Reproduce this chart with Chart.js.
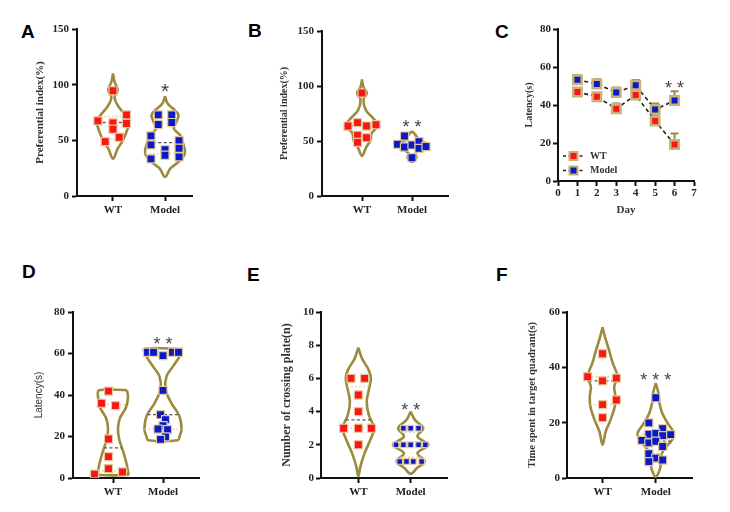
<!DOCTYPE html>
<html><head><meta charset="utf-8">
<script src="https://cdn.jsdelivr.net/npm/chart.js@4/dist/chart.umd.min.js"></script>
<style>
body{margin:0;background:#fff;width:730px;height:512px;position:relative;overflow:hidden}
canvas{position:absolute}
.lab{position:absolute;font:bold 19px "Liberation Sans",Arial,sans-serif;color:#000;line-height:19px}
</style></head><body>
<div class="lab" style="left:21px;top:22px">A</div>
<div class="lab" style="left:248px;top:21px">B</div>
<div class="lab" style="left:495px;top:22px">C</div>
<div class="lab" style="left:22px;top:262px">D</div>
<div class="lab" style="left:247px;top:265px">E</div>
<div class="lab" style="left:496px;top:265px">F</div>
<canvas id="cA" width="200" height="222" style="left:0;top:10px"></canvas>
<canvas id="cB" width="215" height="222" style="left:240px;top:10px"></canvas>
<canvas id="cC" width="225" height="215" style="left:480px;top:10px"></canvas>
<canvas id="cD" width="210" height="262" style="left:0;top:250px"></canvas>
<canvas id="cE" width="215" height="262" style="left:240px;top:250px"></canvas>
<canvas id="cF" width="225" height="262" style="left:480px;top:250px"></canvas>
<script>
// ---------- data ----------
const groups = ['WT', 'Model'];

// Panel A – Preferential index(%)
const aWTVal = [94.5, 67.5, 65.7, 72.9, 65.1, 60, 52.8, 48.9];
const aWTJit = [0, -0.29, 0, 0.26, 0.26, 0, 0.12, -0.15];
const aModelVal = [54, 45.9, 33.3, 72.9, 64.2, 41.7, 36.6, 72.9, 66, 49.8, 42.9, 35.1];
const aModelJit = [-0.27, -0.27, -0.27, -0.13, -0.13, 0, 0, 0.13, 0.13, 0.27, 0.27, 0.27];
const aWTViolin = [[110,0],[102.6,0.03],[95,0.09],[88.5,0.03],[80,0.11],[72.6,0.24],[66.6,0.31],[59,0.27],[50,0.19],[42.6,0.09],[33.6,0]];
const aModelViolin = [[89.7,0],[83,0.05],[77,0.19],[72.6,0.26],[66.6,0.22],[60.6,0.17],[54.6,0.29],[47,0.35],[38,0.38],[30.6,0.26],[24.6,0.1],[17,0]];
const aMedians = [66, 48];
const aQuartiles = [[71.5, 51], [65, 38]];

// Panel B – Preferential index(%)
const bWTVal = [93.6, 66.7, 63.6, 63.6, 64.8, 55.2, 53, 48.8];
const bWTJit = [0, -0.09, -0.28, 0.09, 0.28, -0.09, 0.09, -0.09];
const bModelVal = [54.5, 47, 44.5, 46.4, 49.4, 43.3, 45, 34.8];
const bModelJit = [-0.15, -0.29, -0.15, 0, 0.14, 0.14, 0.28, 0];
const bWTViolin = [[105.8,0],[99,0.03],[93.6,0.1],[87.6,0.03],[77.9,0.08],[70.3,0.23],[64,0.32],[57,0.19],[50.6,0.17],[44,0.08],[36.4,0]];
const bModelViolin = [[59,0],[56,0.06],[53.5,0.1],[51,0.12],[48,0.28],[45.5,0.31],[42,0.18],[39,0.07],[35,0.09],[31,0]];
const bMedians = [63.6, 46];
const bQuartiles = [[66, 53], [49, 44]];

// Panel C – Latency(s) by day
const days = [1, 2, 3, 4, 5, 6];
const cWT = [46.9, 44.3, 38, 45.3, 31.6, 19.2];
const cWTErr = [1.6, 1.7, 2.8, 1.6, 2.5, 5.8];
const cModel = [53.3, 51.1, 46.6, 50.4, 37.6, 42.4];
const cModelErr = [2.4, 2.5, 2.6, 2.7, 3.2, 4.9];

// Panel D – Latency(s)
const dWTVal = [41.9, 36, 34.9, 18.8, 10.3, 4.5, 1.9, 2.9];
const dWTJit = [-0.09, -0.23, 0.05, -0.09, -0.09, -0.09, -0.37, 0.19];
const dModelVal = [60.6, 60.6, 59, 60.6, 60.6, 42.2, 30.5, 28.1, 25.2, 23.6, 23.3, 19.8, 18.6];
const dModelJit = [-0.31, -0.19, 0, 0.19, 0.31, 0, -0.05, 0.05, 0, -0.1, 0.09, 0.05, -0.05];
const dWTViolin = [[42.3,0.28],[39,0.3],[34,0.26],[29,0.14],[24,0.1],[19,0.12],[13,0.2],[7,0.27],[3,0.3],[1.6,0.3]];
const dModelViolin = [[62.2,0.37],[58.6,0.33],[53.8,0.2],[49,0.07],[42.6,0.05],[36,0.17],[29.7,0.33],[23.3,0.37],[20,0.33],[18.2,0.3]];
const dMedians = [14.5, 30.5];
const dQuartiles = [[3.5, 35.5], [23.5, 60.6]];

// Panel E – Number of crossing plate(n)
const eWTVal = [6, 6, 5, 4, 3, 3, 3, 2];
const eWTJit = [-0.14, 0.12, 0, 0, -0.28, 0, 0.25, 0];
const eModelVal = [3, 3, 3, 2, 2, 2, 2, 2, 1, 1, 1, 1];
const eModelJit = [-0.14, 0, 0.15, -0.28, -0.14, 0, 0.15, 0.28, -0.21, -0.08, 0.05, 0.21];
const eWTViolin = [[7.85,0],[7.2,0.07],[6.5,0.2],[6,0.24],[5.3,0.2],[4.6,0.16],[3.8,0.2],[3,0.3],[2.3,0.23],[1.5,0.12],[0.7,0.04],[0.1,0]];
const eModelViolin = [[4.0,0],[3.5,0.08],[3.0,0.24],[2.5,0.13],[2.0,0.34],[1.5,0.13],[1.0,0.27],[0.6,0.12],[0.25,0]];
const eMedians = [3.5, 2];
const eQuartiles = [[3, 5.5], [1.25, 2.75]];

// Panel F – Time spent in target quadrant(s)
const fWTVal = [44.9, 36.6, 35.1, 36.1, 28.2, 26.5, 21.8];
const fWTJit = [0, -0.28, 0, 0.26, 0.26, 0, 0];
const fModelVal = [29, 19.9, 17.8, 15.8, 16.1, 15.3, 15.7, 13.6, 12.7, 13.3, 11.4, 8.8, 7.2, 5.9, 6.5];
const fModelJit = [0, -0.13, 0.13, -0.13, 0, 0.13, 0.28, -0.26, -0.13, 0, 0.13, -0.13, 0, -0.13, 0.13];
const fWTViolin = [[54.5,0],[50,0.06],[46.4,0.12],[41.6,0.19],[36.7,0.28],[33.1,0.22],[29.5,0.24],[25.9,0.23],[21,0.15],[16.9,0.06],[12,0]];
const fModelViolin = [[34.3,0],[30.7,0.05],[27,0.07],[23.5,0.12],[19.9,0.22],[16.3,0.34],[13.9,0.31],[10.2,0.15],[7.2,0.09],[4.2,0.09],[1.8,0.05],[0.4,0]];
const fMedians = [35.1, 13.3];
const fQuartiles = [[26.5, 36.6], [8.8, 15.9]];

// significance marks
const sigA = {x: 2, y: 98.8, text: '*'};
const sigB = {x: 2, y: 66.4, text: '* *'};
const sigC = {x: 6, y: 51, text: '* *'};
const sigD = {x: 2, y: 66.8, text: '* *'};
const sigE = {x: 2, y: 4.36, text: '* *'};
const sigF = {x: 2, y: 36.9, text: '* * *'};

// ---------- styling ----------
const SERIF = '"Liberation Serif","Times New Roman",serif';
const SANS = '"Liberation Sans",Arial,sans-serif';
const RED = '#ff1414', BLUE = '#0a1ac4', PTBORDER = '#e4c99c';
const VIOLIN = '#9c8a3e';
const tickFont = {family: SERIF, weight: 'bold', size: 11};

function profileHW(profile, y) {
  for (let i = 0; i < profile.length - 1; i++) {
    const [y0, w0] = profile[i], [y1, w1] = profile[i + 1];
    if (y <= y0 && y >= y1) { const t = (y0 - y) / ((y0 - y1) || 1); return w0 + (w1 - w0) * t; }
  }
  return 0;
}
function outline(c, profile) {
  const right = profile.map(p => ({x: c + p[1], y: p[0]}));
  const left = profile.slice().reverse().filter(p => p[1] > 0).map(p => ({x: c - p[1], y: p[0]}));
  return right.concat(left, [right[0]]);
}
function sigPlugin(sig, size) {
  return {id: 'sig', afterDatasetsDraw(chart) {
    const ctx = chart.ctx, xs = chart.scales.x, ys = chart.scales.y;
    ctx.save();
    ctx.font = size + 'px ' + SANS;
    ctx.fillStyle = '#444'; ctx.textAlign = 'center'; ctx.textBaseline = 'alphabetic';
    ctx.fillText(sig.text, xs.getPixelForValue(sig.x), ys.getPixelForValue(sig.y) + size * 0.57);
    ctx.restore();
  }};
}
function yAxis(max, step, title, tFont, tOffset, width, tickPad) {
  const lh = tFont.size * 1.2;
  return {
    type: 'linear', min: 0, max: max,
    ticks: {stepSize: step, color: '#222', font: tickFont, padding: tickPad},
    border: {color: '#111', width: 2},
    grid: {drawOnChartArea: false, drawTicks: true, tickLength: 5, tickColor: '#111', tickWidth: 2},
    title: {display: true, text: title, color: '#333', font: tFont, padding: {top: tOffset - lh / 2, bottom: 0}},
    afterFit: s => { s.width = width; }
  };
}
function xCatAxis(min, max, height, pad) {
  return {
    type: 'linear', min: min, max: max,
    afterBuildTicks: s => { s.ticks = [{value: 1}, {value: 2}]; },
    ticks: {color: '#222', font: tickFont, padding: pad, autoSkip: false, maxRotation: 0, callback: v => groups[v - 1]},
    border: {color: '#111', width: 2},
    grid: {drawOnChartArea: false, drawTicks: true, tickLength: 5, tickColor: '#111', tickWidth: 2},
    afterFit: s => { s.height = height; }
  };
}

function violinChart(id, o) {
  const datasets = [];
  o.groups.forEach((g, gi) => {
    const c = gi + 1;
    const r = g.radius || 5.7;
    datasets.push({label: groups[gi], data: g.val.map((v, i) => ({x: c + g.jit[i], y: v})),
      pointStyle: 'rect', pointRadius: r, pointHoverRadius: r,
      pointBackgroundColor: g.color, pointBorderColor: PTBORDER, pointBorderWidth: 1.2, order: 0});
    const hm = profileHW(g.violin, g.median);
    datasets.push({data: [{x: c - hm, y: g.median}, {x: c + hm, y: g.median}], showLine: true,
      borderColor: '#555', borderWidth: 1.3, borderDash: [3, 2.5], pointRadius: 0, order: 1});
    g.quart.forEach(q => {
      const hq = profileHW(g.violin, q);
      datasets.push({data: [{x: c - hq, y: q}, {x: c + hq, y: q}], showLine: true,
        borderColor: '#dccb9c', borderWidth: 1.3, borderDash: [1.5, 2.5], pointRadius: 0, order: 1});
    });
    datasets.push({data: outline(c, g.violin), showLine: true, borderColor: VIOLIN, borderWidth: 2.6,
      tension: 0.35, pointRadius: 0, fill: false, order: 2});
  });
  return new Chart(document.getElementById(id), {
    type: 'scatter',
    data: {datasets},
    options: {
      responsive: false, animation: false, events: [],
      layout: {padding: {top: o.padTop, right: o.padRight, left: 0, bottom: 0}},
      plugins: {legend: {display: false}, tooltip: {enabled: false}},
      scales: {x: xCatAxis(o.xMin, o.xMax, o.xHeight, o.xPad), y: o.y}
    },
    plugins: [sigPlugin(o.sig, o.sigSize)]
  });
}

violinChart('cA', {
  padTop: 19, padRight: 8, xMin: 0.308, xMax: 2.519, xHeight: 36, xPad: 2.5,
  y: yAxis(150, 50, 'Preferential index(%)', {family: SERIF, weight: 'bold', size: 11}, 40, 77, 3),
  groups: [
    {val: aWTVal, jit: aWTJit, violin: aWTViolin, median: aMedians[0], quart: aQuartiles[0], color: RED},
    {val: aModelVal, jit: aModelJit, violin: aModelViolin, median: aMedians[1], quart: aQuartiles[1], color: BLUE}],
  sig: sigA, sigSize: 21
});
violinChart('cB', {
  padTop: 21, padRight: 7, xMin: 0.2, xMax: 2.72, xHeight: 36, xPad: 2.5,
  y: yAxis(150, 50, 'Preferential index(%)', {family: SERIF, weight: 'bold', size: 10}, 44, 82, 3),
  groups: [
    {val: bWTVal, jit: bWTJit, violin: bWTViolin, median: bMedians[0], quart: bQuartiles[0], color: RED},
    {val: bModelVal, jit: bModelJit, violin: bModelViolin, median: bMedians[1], quart: bQuartiles[1], color: BLUE}],
  sig: sigB, sigSize: 18
});
violinChart('cD', {
  padTop: 62, padRight: 11, xMin: 0.2, xMax: 2.72, xHeight: 34, xPad: 2.5,
  y: yAxis(80, 20, 'Latency(s)', {family: SANS, weight: 'normal', size: 10}, 39, 73, 3),
  groups: [
    {val: dWTVal, jit: dWTJit, violin: dWTViolin, median: dMedians[0], quart: dQuartiles[0], color: RED},
    {val: dModelVal, jit: dModelJit, violin: dModelViolin, median: dMedians[1], quart: dQuartiles[1], color: BLUE}],
  sig: sigD, sigSize: 18
});
violinChart('cE', {
  padTop: 62, padRight: 8, xMin: 0.287, xMax: 2.694, xHeight: 34, xPad: 2.5,
  y: yAxis(10, 2, 'Number of crossing plate(n)', {family: SERIF, weight: 'bold', size: 12}, 47, 81, 2),
  groups: [
    {val: eWTVal, jit: eWTJit, violin: eWTViolin, median: eMedians[0], quart: eQuartiles[0], color: RED},
    {val: eModelVal, jit: eModelJit, violin: eModelViolin, median: eMedians[1], quart: eQuartiles[1], color: BLUE, radius: 4}],
  sig: sigE, sigSize: 18
});
violinChart('cF', {
  padTop: 62, padRight: 13, xMin: 0.332, xMax: 2.681, xHeight: 34, xPad: 2.5,
  y: yAxis(60, 20, 'Time spent in target quadrant(s)', {family: SERIF, weight: 'bold', size: 10.5}, 52, 87, 2),
  groups: [
    {val: fWTVal, jit: fWTJit, violin: fWTViolin, median: fMedians[0], quart: fQuartiles[0], color: RED},
    {val: fModelVal, jit: fModelJit, violin: fModelViolin, median: fMedians[1], quart: fQuartiles[1], color: BLUE}],
  sig: sigF, sigSize: 18
});

// Panel C line chart
const errPlugin = {id: 'err', beforeDatasetsDraw(chart) {
  const ctx = chart.ctx, xs = chart.scales.x, ys = chart.scales.y;
  ctx.save(); ctx.strokeStyle = '#a08d45'; ctx.lineWidth = 2;
  chart.data.datasets.forEach(ds => {
    ds.data.forEach((p, i) => {
      const x = xs.getPixelForValue(p.x), y0 = ys.getPixelForValue(p.y), y1 = ys.getPixelForValue(p.y + ds.err[i]);
      ctx.beginPath(); ctx.moveTo(x, y0); ctx.lineTo(x, y1); ctx.moveTo(x - 4, y1); ctx.lineTo(x + 4, y1); ctx.stroke();
    });
  });
  ctx.restore();
}};
const legendPlugin = {id: 'lg', afterDraw(chart) {
  const ctx = chart.ctx, ca = chart.chartArea;
  chart.data.datasets.forEach((ds, i) => {
    const y = ca.bottom - 25 + i * 14.5, x0 = ca.left + 5;
    ctx.save();
    ctx.strokeStyle = '#222'; ctx.lineWidth = 1.6; ctx.setLineDash([3, 2.5]);
    ctx.beginPath(); ctx.moveTo(x0, y); ctx.lineTo(x0 + 21, y); ctx.stroke();
    ctx.setLineDash([]);
    ctx.fillStyle = ds.pointBackgroundColor; ctx.strokeStyle = ds.pointBorderColor; ctx.lineWidth = 2;
    ctx.fillRect(x0 + 6.5, y - 4, 8, 8); ctx.strokeRect(x0 + 6.5, y - 4, 8, 8);
    ctx.fillStyle = '#333'; ctx.font = 'bold 10px ' + SERIF; ctx.textBaseline = 'middle'; ctx.textAlign = 'left';
    ctx.fillText(ds.label, x0 + 27, y);
    ctx.restore();
  });
}};
new Chart(document.getElementById('cC'), {
  type: 'scatter',
  data: {datasets: [
    {label: 'WT', data: days.map((d, i) => ({x: d, y: cWT[i]})), err: cWTErr, showLine: true,
      borderColor: '#222', borderWidth: 1.6, borderDash: [4, 3], pointStyle: 'rect', pointRadius: 6, pointHoverRadius: 6,
      pointBackgroundColor: RED, pointBorderColor: '#c9b27a', pointBorderWidth: 2.5},
    {label: 'Model', data: days.map((d, i) => ({x: d, y: cModel[i]})), err: cModelErr, showLine: true,
      borderColor: '#222', borderWidth: 1.6, borderDash: [4, 3], pointStyle: 'rect', pointRadius: 6, pointHoverRadius: 6,
      pointBackgroundColor: BLUE, pointBorderColor: '#c9b27a', pointBorderWidth: 2.5}
  ]},
  options: {
    responsive: false, animation: false, events: [],
    layout: {padding: {top: 19, right: 11, left: 0, bottom: 0}},
    plugins: {legend: {display: false}, tooltip: {enabled: false}},
    scales: {
      x: {type: 'linear', min: 0, max: 7,
        ticks: {stepSize: 1, color: '#222', font: tickFont, padding: 1, autoSkip: false, maxRotation: 0},
        border: {color: '#111', width: 2},
        grid: {drawOnChartArea: false, drawTicks: true, tickLength: 5, tickColor: '#111', tickWidth: 2},
        title: {display: true, text: 'Day', color: '#333', font: {family: SERIF, weight: 'bold', size: 11}, padding: {top: 0, bottom: 8.4}},
        afterFit: s => { s.height = 44; }},
      y: yAxis(80, 20, 'Latency(s)', {family: SERIF, weight: 'bold', size: 10}, 49, 78, 2)
    }
  },
  plugins: [errPlugin, legendPlugin, sigPlugin(sigC, 18)]
});
</script>
</body></html>
